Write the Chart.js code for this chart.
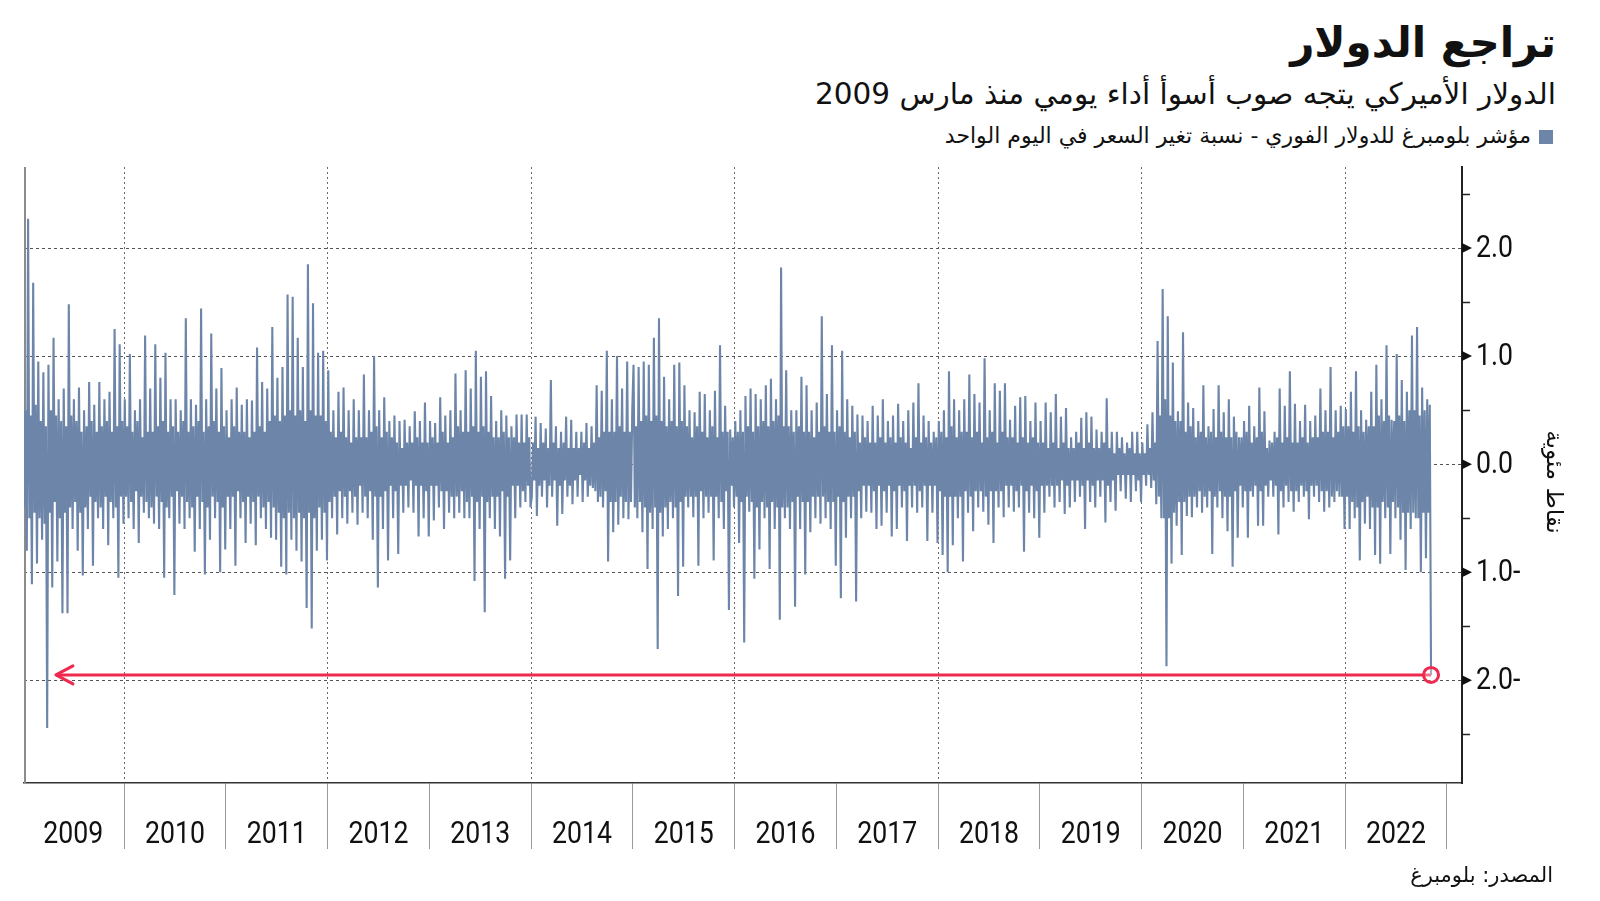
<!DOCTYPE html>
<html lang="ar">
<head>
<meta charset="utf-8">
<title>تراجع الدولار</title>
<script src="https://cdn.jsdelivr.net/npm/chart.js@4.4.1/dist/chart.umd.min.js"></script>
<style>
    html, body { margin: 0; padding: 0; background: #fff; }
    body { width: 1600px; height: 901px; position: relative; overflow: hidden; font-family: 'DejaVu Sans', sans-serif; color: #111; }
    #chart { position: absolute; left: 0; top: 0; }
    .txt { position: absolute; right: 44px; direction: rtl; white-space: nowrap; }
    #title { top: 13px; font-size: 42px; font-weight: bold; line-height: 60px; }
    #subtitle { top: 74px; font-size: 29.5px; line-height: 40px; }
    #legend { top: 122px; right: 47px; font-size: 22px; line-height: 28px; }
    #legend i { display: inline-block; width: 14px; height: 14px; background: #6c85a8; margin-left: 8px; vertical-align: middle; }
    #source { top: 861px; right: 47px; font-size: 21px; line-height: 28px; }
</style>
</head>
<body>
<div class="txt" id="title">تراجع الدولار</div>
<div class="txt" id="subtitle">الدولار الأميركي يتجه صوب أسوأ أداء يومي منذ مارس 2009</div>
<div class="txt" id="legend"><i></i>مؤشر بلومبرغ للدولار الفوري - نسبة تغير السعر في اليوم الواحد</div>
<canvas id="chart" width="1600" height="901"></canvas>
<div class="txt" id="source">المصدر: بلومبرغ</div>
<script>
var SERIES_COLOR = '#6c85a8';
var DROP_COLOR = '#ee2a4f';

// daily % change of the Bloomberg dollar spot index
// (about 80 readings per calendar year)
var YEARS = [2009, 2010, 2011, 2012, 2013, 2014, 2015, 2016, 2017, 2018, 2019, 2020, 2021, 2022];
var POINTS_PER_YEAR = 80;

var y2009 = [0.9, -0.4, 0.5, -0.8, 2.27, -0.5, 0.45, -1.11, 1.68, -0.45, 0.55, -0.92, 0.95, -0.5, 0.4, -0.7, 0.85, -0.55, 0.35, -2.44,
    0.92, -0.45, 0.5, -1.14, 1.17, -0.35, 0.45, -0.9, 0.6, -0.5, 0.4, -1.38, 0.7, -0.45, 0.35, -1.38, 1.48, -0.4, 0.45, -0.6,
    0.6, -0.35, 0.4, -0.8, 0.71, -0.45, 0.3, -1.03, 0.5, -0.4, 0.35, -0.6, 0.76, -0.3, 0.4, -0.94, 0.55, -0.35, 0.3, -0.5,
    0.76, -0.4, 0.35, -0.6, 0.6, -0.3, 0.4, -0.75, 0.67, -0.35, 0.3, -0.5, 1.25, -0.4, 0.35, -1.05, 1.11, -0.3, 0.4, -0.55];
var y2010 = [0.6, -0.3, 0.35, -0.5, 1.02, -0.35, 0.3, -0.6, 0.5, -0.25, 0.4, -0.73, 0.6, -0.3, 0.25, -0.45, 1.19, -0.35, 0.3, -0.5,
    0.7, -0.4, 0.3, -0.55, 1.11, -0.3, 0.35, -0.6, 0.8, -0.35, 0.4, -1.05, 1.03, -0.4, 0.3, -0.5, 0.6, -0.3, 0.35, -1.21,
    0.6, -0.25, 0.3, -0.55, 0.5, -0.3, 0.4, -0.6, 1.35, -0.35, 0.3, -0.5, 0.6, -0.4, 0.35, -0.81, 0.55, -0.3, 0.4, -0.6,
    1.44, -0.35, 0.3, -1.02, 0.6, -0.4, 0.35, -0.7, 1.21, -0.3, 0.4, -0.5, 0.7, -0.35, 0.3, -1.0, 0.89, -0.4, 0.35, -0.79];
var y2011 = [0.5, -0.3, 0.25, -0.6, 0.6, -0.3, 0.35, -0.94, 0.71, -0.25, 0.3, -0.5, 0.55, -0.35, 0.3, -0.73, 0.6, -0.3, 0.25, -0.55,
    0.59, -0.35, 0.3, -0.75, 1.08, -0.3, 0.35, -0.5, 0.76, -0.4, 0.3, -0.6, 0.7, -0.35, 0.4, -0.68, 1.27, -0.4, 0.45, -0.7,
    0.8, -0.45, 0.4, -0.95, 0.9, -0.5, 0.45, -1.02, 1.57, -0.45, 0.5, -0.7, 1.55, -0.5, 0.45, -0.8, 1.17, -0.45, 0.5, -0.9,
    0.9, -0.5, 0.4, -1.33, 1.85, -0.45, 0.5, -1.52, 1.49, -0.5, 0.45, -0.8, 1.03, -0.4, 0.45, -0.7, 1.05, -0.45, 0.4, -0.89];
var y2012 = [0.87, -0.35, 0.3, -0.5, 0.5, -0.3, 0.25, -0.65, 0.67, -0.25, 0.3, -0.5, 0.71, -0.3, 0.25, -0.55, 0.5, -0.25, 0.2, -0.45,
    0.6, -0.3, 0.25, -0.56, 0.5, -0.2, 0.25, -0.45, 0.83, -0.3, 0.25, -0.5, 0.5, -0.25, 0.3, -0.7, 1.0, -0.3, 0.35, -1.14,
    0.5, -0.3, 0.25, -0.6, 0.62, -0.25, 0.3, -0.89, 0.4, -0.2, 0.25, -0.5, 0.45, -0.25, 0.2, -0.83, 0.4, -0.2, 0.15, -0.45,
    0.41, -0.2, 0.2, -0.4, 0.35, -0.15, 0.2, -0.45, 0.49, -0.2, 0.25, -0.67, 0.4, -0.2, 0.2, -0.5, 0.57, -0.25, 0.2, -0.67];
var y2013 = [0.4, -0.2, 0.25, -0.52, 0.38, -0.2, 0.2, -0.4, 0.62, -0.25, 0.3, -0.6, 0.45, -0.25, 0.2, -0.45, 0.5, -0.3, 0.25, -0.5,
    0.84, -0.3, 0.35, -0.45, 0.5, -0.25, 0.3, -0.5, 0.87, -0.35, 0.3, -0.5, 0.7, -0.3, 0.35, -1.08, 1.05, -0.35, 0.3, -0.6,
    0.81, -0.3, 0.35, -1.37, 0.86, -0.35, 0.3, -0.5, 0.63, -0.3, 0.25, -0.6, 0.4, -0.3, 0.25, -0.67, 0.5, -0.25, 0.3, -1.06,
    0.45, -0.3, 0.25, -0.89, 0.35, -0.2, 0.25, -0.5, 0.46, -0.2, 0.2, -0.4, 0.46, -0.25, 0.2, -0.35, 0.46, -0.2, 0.25, -0.4];
var y2014 = [-0.3, 0.2, -0.15, 0.44, -0.48, 0.15, -0.2, 0.38, -0.3, 0.2, -0.15, 0.33, -0.4, 0.15, -0.2, 0.78, -0.3, 0.2, -0.15, 0.35,
    -0.57, 0.15, -0.2, 0.3, -0.46, 0.2, -0.15, 0.44, -0.3, 0.15, -0.2, 0.41, -0.37, 0.15, -0.15, 0.3, -0.3, 0.15, -0.1, 0.3,
    -0.35, 0.2, -0.15, 0.38, -0.3, 0.15, -0.2, 0.35, -0.22, 0.2, -0.25, 0.73, -0.35, 0.25, -0.3, 0.68, -0.4, 0.3, -0.25, 1.05,
    -0.9, 0.3, -0.35, 0.6, -0.63, 0.3, -0.35, 1.0, -0.56, 0.35, -0.3, 0.7, -0.5, 0.3, -0.35, 0.95, -0.51, 0.3, -0.35, 0.5];
var y2015 = [0.92, -0.4, 0.35, -0.5, 0.9, -0.35, 0.4, -0.63, 0.95, -0.4, 0.45, -0.97, 0.92, -0.45, 0.4, -0.6, 1.17, -0.4, 0.45, -1.71,
    1.35, -0.45, 0.4, -0.67, 0.81, -0.4, 0.35, -0.6, 0.6, -0.35, 0.4, -0.5, 0.92, -0.4, 0.35, -1.22, 0.94, -0.35, 0.4, -0.95,
    0.73, -0.3, 0.35, -0.4, 0.5, -0.3, 0.25, -0.49, 0.48, -0.3, 0.35, -0.94, 0.67, -0.25, 0.3, -0.5, 0.65, -0.3, 0.25, -0.45,
    0.5, -0.3, 0.35, -0.89, 0.68, -0.3, 0.25, -0.5, 1.1, -0.35, 0.3, -0.6, 0.54, -0.25, 0.3, -1.35, 0.32, -0.2, 0.25, -0.4];
var y2016 = [0.4, -0.3, 0.3, -0.73, 0.5, -0.35, 0.3, -1.65, 0.63, -0.3, 0.35, -0.44, 0.7, -0.35, 0.3, -1.06, 0.65, -0.4, 0.35, -0.79,
    0.6, -0.35, 0.4, -0.5, 0.73, -0.4, 0.35, -0.97, 0.79, -0.35, 0.4, -0.6, 0.6, -0.4, 0.45, -1.44, 1.82, -0.4, 0.35, -0.5,
    0.87, -0.4, 0.35, -0.6, 0.5, -0.35, 0.3, -1.32, 0.5, -0.3, 0.35, -0.6, 0.81, -0.35, 0.3, -1.02, 0.73, -0.35, 0.3, -0.63,
    0.5, -0.3, 0.25, -0.5, 0.57, -0.3, 0.3, -0.55, 1.37, -0.3, 0.35, -0.5, 0.65, -0.35, 0.3, -0.6, 1.1, -0.35, 0.3, -0.94];
var y2017 = [0.5, -0.3, 0.35, -1.24, 1.05, -0.35, 0.3, -0.68, 0.6, -0.3, 0.25, -0.5, 0.54, -0.3, 0.3, -1.27, 0.46, -0.25, 0.2, -0.5,
    0.45, -0.2, 0.25, -0.44, 0.4, -0.2, 0.2, -0.45, 0.54, -0.25, 0.2, -0.6, 0.45, -0.2, 0.25, -0.57, 0.6, -0.25, 0.2, -0.45,
    0.4, -0.2, 0.25, -0.67, 0.45, -0.25, 0.2, -0.6, 0.56, -0.2, 0.25, -0.4, 0.4, -0.25, 0.2, -0.71, 0.5, -0.2, 0.15, -0.4,
    0.57, -0.2, 0.25, -0.45, 0.75, -0.25, 0.2, -0.4, 0.45, -0.2, 0.25, -0.71, 0.4, -0.2, 0.2, -0.45, 0.3, -0.2, 0.25, -0.73];
var y2018 = [0.4, -0.25, 0.3, -0.84, 0.5, -0.3, 0.25, -1.0, 0.86, -0.3, 0.35, -0.75, 0.6, -0.3, 0.25, -0.5, 0.5, -0.3, 0.3, -0.9,
    0.6, -0.25, 0.3, -0.45, 0.83, -0.3, 0.25, -0.62, 0.65, -0.25, 0.3, -0.4, 0.57, -0.25, 0.2, -0.44, 0.98, -0.3, 0.25, -0.56,
    0.5, -0.25, 0.3, -0.73, 0.75, -0.25, 0.2, -0.4, 0.68, -0.25, 0.3, -0.49, 0.75, -0.2, 0.25, -0.4, 0.41, -0.2, 0.25, -0.44,
    0.54, -0.25, 0.2, -0.4, 0.62, -0.2, 0.25, -0.81, 0.63, -0.25, 0.2, -0.45, 0.4, -0.2, 0.25, -0.5, 0.57, -0.25, 0.2, -0.68];
var y2019 = [0.4, -0.2, 0.2, -0.45, 0.57, -0.2, 0.15, -0.3, 0.48, -0.2, 0.2, -0.4, 0.65, -0.2, 0.15, -0.35, 0.44, -0.15, 0.2, -0.46,
    0.52, -0.2, 0.15, -0.4, 0.25, -0.15, 0.15, -0.35, 0.3, -0.15, 0.2, -0.3, 0.43, -0.2, 0.15, -0.6, 0.48, -0.15, 0.2, -0.35,
    0.44, -0.2, 0.15, -0.4, 0.32, -0.15, 0.15, -0.3, 0.3, -0.15, 0.2, -0.54, 0.61, -0.2, 0.15, -0.35, 0.3, -0.15, 0.1, -0.43,
    0.3, -0.1, 0.15, -0.25, 0.25, -0.1, 0.1, -0.32, 0.2, -0.1, 0.15, -0.35, 0.3, -0.1, 0.1, -0.25, 0.3, -0.15, 0.1, -0.35];
var y2020 = [0.2, -0.1, 0.1, -0.2, 0.37, -0.1, 0.15, -0.22, 0.48, -0.15, 0.2, -0.37, 1.14, -0.3, 0.45, -0.5, 1.62, -0.5, 0.6, -1.87,
    1.37, -0.5, 0.45, -0.92, 0.94, -0.45, 0.4, -0.57, 0.49, -0.35, 0.4, -0.84, 1.22, -0.35, 0.3, -0.48, 0.57, -0.3, 0.35, -0.49,
    0.52, -0.3, 0.25, -0.4, 0.4, -0.25, 0.3, -0.45, 0.73, -0.3, 0.25, -0.4, 0.35, -0.25, 0.3, -0.83, 0.51, -0.3, 0.25, -0.4,
    0.73, -0.25, 0.3, -0.5, 0.48, -0.3, 0.25, -0.62, 0.6, -0.3, 0.25, -0.95, 0.44, -0.25, 0.3, -0.68, 0.25, -0.2, 0.25, -0.4];
var y2021 = [0.4, -0.25, 0.3, -0.68, 0.54, -0.25, 0.2, -0.3, 0.35, -0.2, 0.25, -0.57, 0.71, -0.25, 0.3, -0.57, 0.49, -0.2, 0.15, -0.3,
    0.22, -0.15, 0.2, -0.3, 0.3, -0.2, 0.25, -0.65, 0.7, -0.25, 0.2, -0.4, 0.54, -0.2, 0.25, -0.35, 0.86, -0.25, 0.2, -0.44,
    0.56, -0.25, 0.2, -0.35, 0.4, -0.2, 0.25, -0.3, 0.55, -0.25, 0.2, -0.51, 0.4, -0.2, 0.25, -0.3, 0.45, -0.2, 0.25, -0.35,
    0.7, -0.25, 0.3, -0.44, 0.5, -0.25, 0.3, -0.4, 0.9, -0.3, 0.25, -0.35, 0.5, -0.25, 0.3, -0.3, 0.54, -0.3, 0.35, -0.6];
var y2022 = [0.51, -0.3, 0.35, -0.6, 0.67, -0.35, 0.3, -0.5, 0.86, -0.4, 0.35, -0.89, 0.5, -0.35, 0.3, -0.55, 0.41, -0.3, 0.35, -0.6,
    0.67, -0.4, 0.35, -0.84, 0.92, -0.4, 0.45, -0.92, 0.6, -0.35, 0.4, -0.5, 1.1, -0.4, 0.45, -0.83, 0.41, -0.35, 0.4, -0.5,
    1.02, -0.4, 0.45, -0.7, 0.78, -0.45, 0.4, -0.98, 0.67, -0.45, 0.5, -0.6, 1.19, -0.45, 0.5, -0.5, 1.27, -0.5, 0.45, -1.0,
    0.71, -0.45, 0.5, -0.87, 0.6, -0.45, 0.55, -1.95];
var DAILY_CHANGE = [y2009, y2010, y2011, y2012, y2013, y2014, y2015, y2016, y2017, y2018, y2019, y2020, y2021, y2022];

// axes
var X_MIN = 2009.016;
var X_MAX = 2023.148;
var YEAR_LINES = [2010, 2011, 2012, 2013, 2014, 2015, 2016, 2017, 2018, 2019, 2020, 2021, 2022, 2023];
var Y_MIN = -2.95;
var Y_MAX = 2.75;
var Y_TICKS = [-2.5, -2, -1.5, -1, -0.5, 0, 0.5, 1, 1.5, 2, 2.5];
var Y_LABELLED = [-2, -1, 0, 1, 2];
var Y_TITLE = 'نقاط مئوية';

// annotation: the latest drop, carried back to the 2009 low
var DROP_LEVEL = -1.95;
var ARROW_FROM = 2009.33;

var NUM_FONT = '31px Roboto';
var NUM_SQUEEZE = 0.86;

function isWhole(v) {
    return Math.abs(v - Math.round(v)) < 1e-6;
}

function formatTick(v) {
    var s = Math.abs(v).toFixed(1);
    return v < 0 ? s + '-' : s;
}

function buildSeries() {
    var points = [];
    for (var i = 0; i < YEARS.length; i++) {
        var values = DAILY_CHANGE[i];
        for (var j = 0; j < values.length; j++) {
            points.push({x: YEARS[i] + (j + 0.5) / POINTS_PER_YEAR, y: values[j]});
        }
    }
    return points;
}

// narrow figures, like the condensed face of the original
function drawNarrowText(ctx, text, x, y, align) {
    ctx.save();
    ctx.translate(x, y);
    ctx.scale(NUM_SQUEEZE, 1);
    ctx.textAlign = align;
    ctx.fillText(text, 0, 0);
    ctx.restore();
}

var chartDecorations = {
    id: 'chartDecorations',
    beforeDatasetsDraw: function (chart) {
        var ctx = chart.ctx;
        var area = chart.chartArea;
        ctx.save();
        ctx.strokeStyle = '#8c8c8c';
        ctx.lineWidth = 2;
        ctx.beginPath();
        ctx.moveTo(area.left + 1, area.top);
        ctx.lineTo(area.left + 1, area.bottom);
        ctx.stroke();
        ctx.restore();
    },
    afterDatasetsDraw: function (chart) {
        var ctx = chart.ctx;
        var tipX = chart.scales.x.getPixelForValue(ARROW_FROM);
        var tipY = chart.scales.y.getPixelForValue(DROP_LEVEL);
        ctx.save();
        ctx.strokeStyle = DROP_COLOR;
        ctx.lineWidth = 3;
        ctx.lineCap = 'round';
        ctx.lineJoin = 'round';
        ctx.beginPath();
        ctx.moveTo(tipX + 17, tipY - 9);
        ctx.lineTo(tipX, tipY);
        ctx.lineTo(tipX + 17, tipY + 9);
        ctx.stroke();
        ctx.restore();
    },
    afterDraw: function (chart) {
        var ctx = chart.ctx;
        var area = chart.chartArea;
        var xs = chart.scales.x;
        var ys = chart.scales.y;
        ctx.save();
        ctx.fillStyle = '#111';
        ctx.font = NUM_FONT;
        ctx.textBaseline = 'middle';

        // arrow markers and labels on the whole-number y ticks
        Y_LABELLED.forEach(function (v) {
            var py = ys.getPixelForValue(v);
            ctx.beginPath();
            ctx.moveTo(area.right, py - 5);
            ctx.lineTo(area.right + 10, py);
            ctx.lineTo(area.right, py + 5);
            ctx.closePath();
            ctx.fill();
            drawNarrowText(ctx, formatTick(v), area.right + 14, py + 1, 'left');
        });

        // year labels centred between the separators
        YEARS.forEach(function (yr) {
            var cx = (xs.getPixelForValue(yr) + xs.getPixelForValue(yr + 1)) / 2;
            drawNarrowText(ctx, String(yr), cx, 835, 'center');
        });

        // y axis title
        ctx.font = '23px "DejaVu Sans"';
        ctx.textAlign = 'center';
        ctx.translate(1553, 482);
        ctx.rotate(Math.PI / 2);
        ctx.fillText(Y_TITLE, 0, 0);
        ctx.restore();
    }
};

function createChart() {
    var series = buildSeries();
    var last = series[series.length - 1];

    return new Chart(document.getElementById('chart').getContext('2d'), {
        type: 'line',
        data: {
            datasets: [{
                data: [{x: ARROW_FROM, y: DROP_LEVEL}, {x: last.x, y: DROP_LEVEL}],
                borderColor: DROP_COLOR,
                borderWidth: 3,
                pointRadius: [0, 7.5],
                pointBorderWidth: 3,
                pointBorderColor: DROP_COLOR,
                pointBackgroundColor: 'rgba(255,255,255,0.35)',
                order: 0
            }, {
                data: series,
                borderColor: SERIES_COLOR,
                borderWidth: 2.1,
                borderJoinStyle: 'bevel',
                tension: 0,
                pointRadius: 0,
                order: 1
            }]
        },
        options: {
            responsive: false,
            animation: false,
            events: [],
            devicePixelRatio: 1,
            layout: {
                padding: {left: 24, top: 167, right: 0, bottom: 0}
            },
            plugins: {
                legend: {display: false},
                tooltip: {enabled: false}
            },
            scales: {
                x: {
                    type: 'linear',
                    min: X_MIN,
                    max: X_MAX,
                    afterBuildTicks: function (scale) {
                        scale.ticks = YEAR_LINES.map(function (v) { return {value: v}; });
                    },
                    afterFit: function (scale) {
                        scale.height = 118;
                        scale.paddingLeft = 0;
                        scale.paddingRight = 0;
                    },
                    ticks: {display: false},
                    grid: {
                        color: function (c) {
                            return Math.round(c.tick.value) % 2 === 0 ? '#6a6a6a' : 'rgba(0,0,0,0)';
                        },
                        lineWidth: 1,
                        drawTicks: true,
                        tickLength: 66,
                        tickColor: '#9a9a9a',
                        tickWidth: 1
                    },
                    border: {display: true, color: '#333', width: 1.5, dash: [2, 3]}
                },
                y: {
                    position: 'right',
                    min: Y_MIN,
                    max: Y_MAX,
                    afterBuildTicks: function (scale) {
                        scale.ticks = Y_TICKS.map(function (v) { return {value: v}; });
                    },
                    afterFit: function (scale) {
                        scale.width = 138;
                        scale.paddingTop = 0;
                        scale.paddingBottom = 0;
                    },
                    ticks: {display: false},
                    grid: {
                        color: function (c) {
                            return isWhole(c.tick.value) ? '#555' : 'rgba(0,0,0,0)';
                        },
                        lineWidth: 1,
                        drawTicks: true,
                        tickLength: 8,
                        tickColor: function (c) {
                            return isWhole(c.tick.value) ? 'rgba(0,0,0,0)' : '#222';
                        },
                        tickWidth: 1.5
                    },
                    border: {display: true, color: '#222', width: 2, dash: [3, 3]}
                }
            }
        },
        plugins: [chartDecorations]
    });
}

createChart();
</script>
</body>
</html>
